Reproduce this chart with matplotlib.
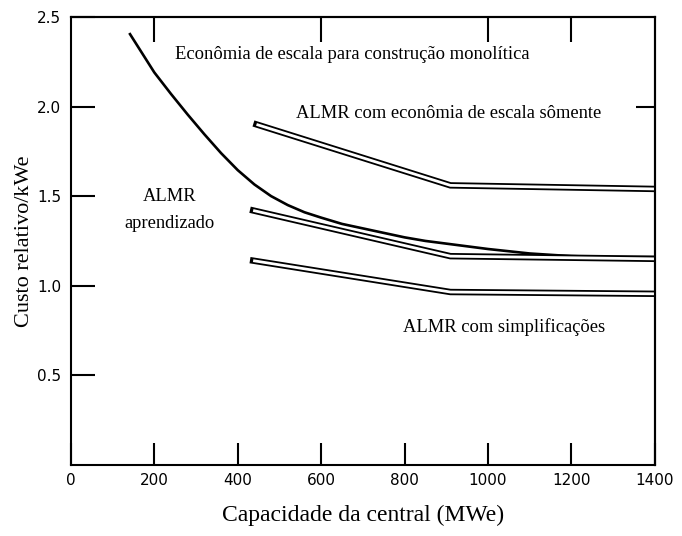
import matplotlib
matplotlib.use("Agg")
import matplotlib.pyplot as plt

# capacidade (MWe) x custo relativo por kWe
mono_x = [140, 170, 200, 240, 280, 320, 360, 400, 440, 480, 520, 560, 600,
          650, 700, 750, 800, 850, 900, 1000, 1100, 1200, 1300, 1400]
mono_y = [2.41, 2.30, 2.19, 2.07, 1.955, 1.845, 1.74, 1.645, 1.565, 1.50, 1.45, 1.41, 1.38,
          1.345, 1.32, 1.295, 1.27, 1.25, 1.235, 1.205, 1.18, 1.165, 1.16, 1.16]

escala_x = [445, 910, 1400]
escala_y = [1.90, 1.56, 1.54]

aprend_x = [437, 910, 1400]
aprend_y = [1.42, 1.165, 1.15]

simpl_x = [437, 910, 1400]
simpl_y = [1.14, 0.965, 0.955]

x_ticks = [0, 200, 400, 600, 800, 1000, 1200, 1400]
y_ticks = [0.5, 1.0, 1.5, 2.0, 2.5]
top_ticks = [200, 600, 1000, 1200]

serif = "Liberation Serif"

fig = plt.figure(figsize=(6.82, 5.36), dpi=100)
ax = fig.add_axes([0.104, 0.1325, 0.856, 0.836])

ax.plot(mono_x, mono_y, color="black", lw=1.9, solid_capstyle="butt",
        solid_joinstyle="round")

# faixas de linha dupla: traço preto largo com miolo branco
for bx, by in [(escala_x, escala_y), (aprend_x, aprend_y), (simpl_x, simpl_y)]:
    ax.plot(bx, by, color="black", lw=4.6, solid_capstyle="projecting",
            solid_joinstyle="miter")
    ax.plot(bx, by, color="white", lw=2.0, solid_capstyle="butt",
            solid_joinstyle="miter")

ax.set_xlim(0, 1400)
ax.set_ylim(0, 2.5)

for s in ax.spines.values():
    s.set_linewidth(1.5)

ax.set_xticks(x_ticks)
ax.set_yticks(y_ticks)
ax.set_yticklabels([f"{v:.1f}" for v in y_ticks])
ax.tick_params(axis="x", direction="in", length=16, width=1.5, pad=6,
               labelsize=11, top=False)
ax.tick_params(axis="y", direction="in", length=17, width=1.5, pad=7,
               labelsize=11, right=False)

sec_top = ax.secondary_xaxis("top")
sec_top.set_xticks(top_ticks)
sec_top.tick_params(direction="in", length=18, width=1.5, labeltop=False)
sec_top.spines["top"].set_linewidth(1.5)

sec_right = ax.secondary_yaxis("right")
sec_right.set_yticks([2.0])
sec_right.tick_params(direction="in", length=14, width=1.5, labelright=False)
sec_right.spines["right"].set_linewidth(1.5)

ax.set_xlabel("Capacidade da central (MWe)", family=serif, fontsize=17, labelpad=12)
ax.set_ylabel("Custo relativo/kWe", family=serif, fontsize=16, labelpad=2)

ax.text(674, 2.29, "Econômia de escala para construção monolítica",
        family=serif, fontsize=13.4, ha="center", va="center")
ax.text(906, 1.96, "ALMR com econômia de escala sômente",
        family=serif, fontsize=13.3, ha="center", va="center")
ax.text(237, 1.50, "ALMR", family=serif, fontsize=13.3, ha="center", va="center")
ax.text(237, 1.345, "aprendizado", family=serif, fontsize=13.3, ha="center", va="center")
ax.text(1038, 0.77, "ALMR com simplificações",
        family=serif, fontsize=13.3, ha="center", va="center")

fig.savefig("out.png", dpi=100)
